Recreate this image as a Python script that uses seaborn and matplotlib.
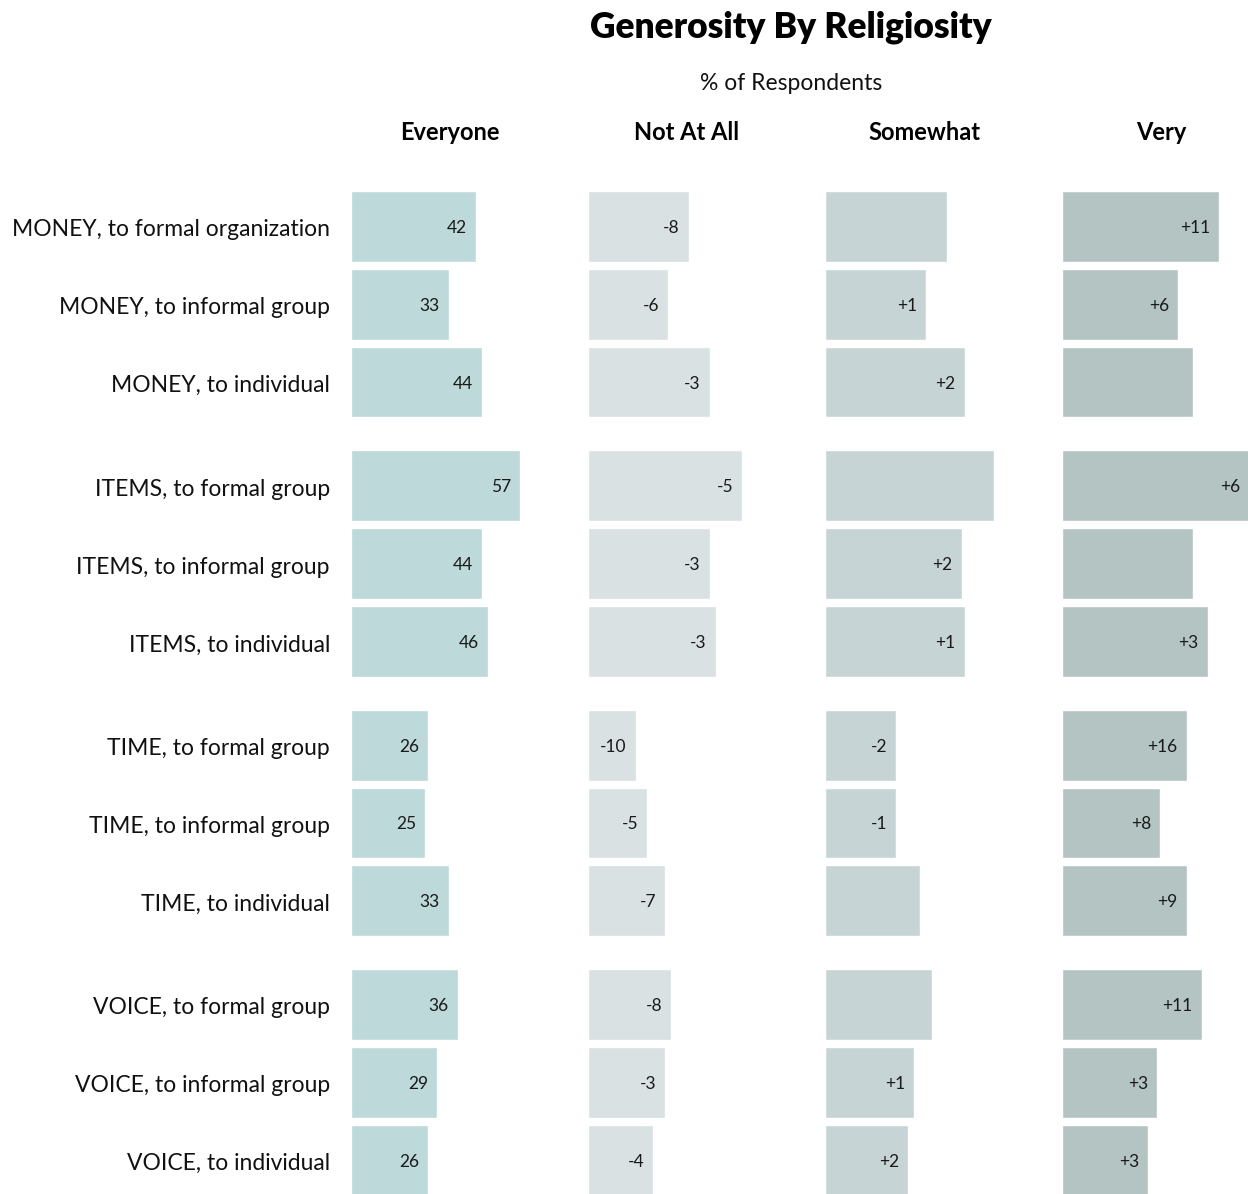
import pandas as pd
import matplotlib.pyplot as plt
import seaborn as sns

# data
rows = ['MONEY, to formal organization', 'MONEY, to informal group', 'MONEY, to individual',
        'ITEMS, to formal group', 'ITEMS, to informal group', 'ITEMS, to individual',
        'TIME, to formal group', 'TIME, to informal group', 'TIME, to individual',
        'VOICE, to formal group', 'VOICE, to informal group', 'VOICE, to individual']
columns = ['Everyone', 'Not At All', 'Somewhat', 'Very']

everyone = [42, 33, 44, 57, 44, 46, 26, 25, 33, 36, 29, 26]
not_at_all = [34, 27, 41, 52, 41, 43, 16, 20, 26, 28, 26, 22]
somewhat = [41, 34, 47, 57, 46, 47, 24, 24, 32, 36, 30, 28]
very = [53, 39, 44, 63, 44, 49, 42, 33, 42, 47, 32, 29]

everyone_labels = ['42', '33', '44', '57', '44', '46', '26', '25', '33', '36', '29', '26']
not_at_all_labels = ['-8', '-6', '-3', '-5', '-3', '-3', '-10', '-5', '-7', '-8', '-3', '-4']
somewhat_labels = ['', '+1', '+2', '', '+2', '+1', '-2', '-1', '', '', '+1', '+2']
very_labels = ['+11', '+6', '', '+6', '', '+3', '+16', '+8', '+9', '+11', '+3', '+3']

values = [everyone, not_at_all, somewhat, very]
labels = [everyone_labels, not_at_all_labels, somewhat_labels, very_labels]
colors = ['#bdd9da', '#d9e1e3', '#c6d4d5', '#b3c4c3']

# rows come in groups of 3 with a gap between groups
pos = [(i // 3) * (3 + 1 / 3) + i % 3 for i in range(len(rows))]

W, H = 1248, 1194
fig = plt.figure(figsize=(W / 100, H / 100), dpi=100)
sns.set_style('white')
plt.rcParams['font.family'] = ['Lato', 'DejaVu Sans']

# pixel layout
px_unit = 2.97
row_px = 77.8
top_center = 226.5
ax_top, ax_bottom = 150, 1194
panel_w = 198

for k, col in enumerate(columns):
    left = 351 + k * 237
    ax = fig.add_axes([left / W, 1 - ax_bottom / H, panel_w / W, (ax_bottom - ax_top) / H])
    df = pd.DataFrame({'pos': pos, 'value': values[k]})
    sns.barplot(data=df, x='value', y='pos', orient='h', native_scale=True,
                width=0.91, color=colors[k], saturation=1, errorbar=None, ax=ax)
    ax.set_xlim(0, panel_w / px_unit)
    ax.set_ylim((ax_bottom - top_center) / row_px, (ax_top - top_center) / row_px)
    for v, p, lab in zip(values[k], pos, labels[k]):
        if lab:
            ax.annotate(lab, (v, p), xytext=(-9, 0), textcoords='offset pixels',
                        ha='right', va='center_baseline', fontsize=12.5, color='#1a1a1a')
    ax.axis('off')
    fig.text((left + 99) / W, 1 - 131 / H, col, ha='center', va='center_baseline',
             fontsize=17, fontweight='bold', color='black')

# row labels
for r, p in zip(rows, pos):
    fig.text(330 / W, 1 - (top_center + 1.5 + p * row_px) / H, r, ha='right',
             va='center_baseline', fontsize=16.5, color='#111111')

fig.text(791 / W, 1 - 24 / H, 'Generosity By Religiosity', ha='center', va='center_baseline',
         fontsize=25.5, fontweight='heavy', color='black')
fig.text(791 / W, 1 - 81 / H, '% of Respondents', ha='center', va='center_baseline',
         fontsize=16.5, color='#111111')

plt.savefig('out.png', dpi=100)
